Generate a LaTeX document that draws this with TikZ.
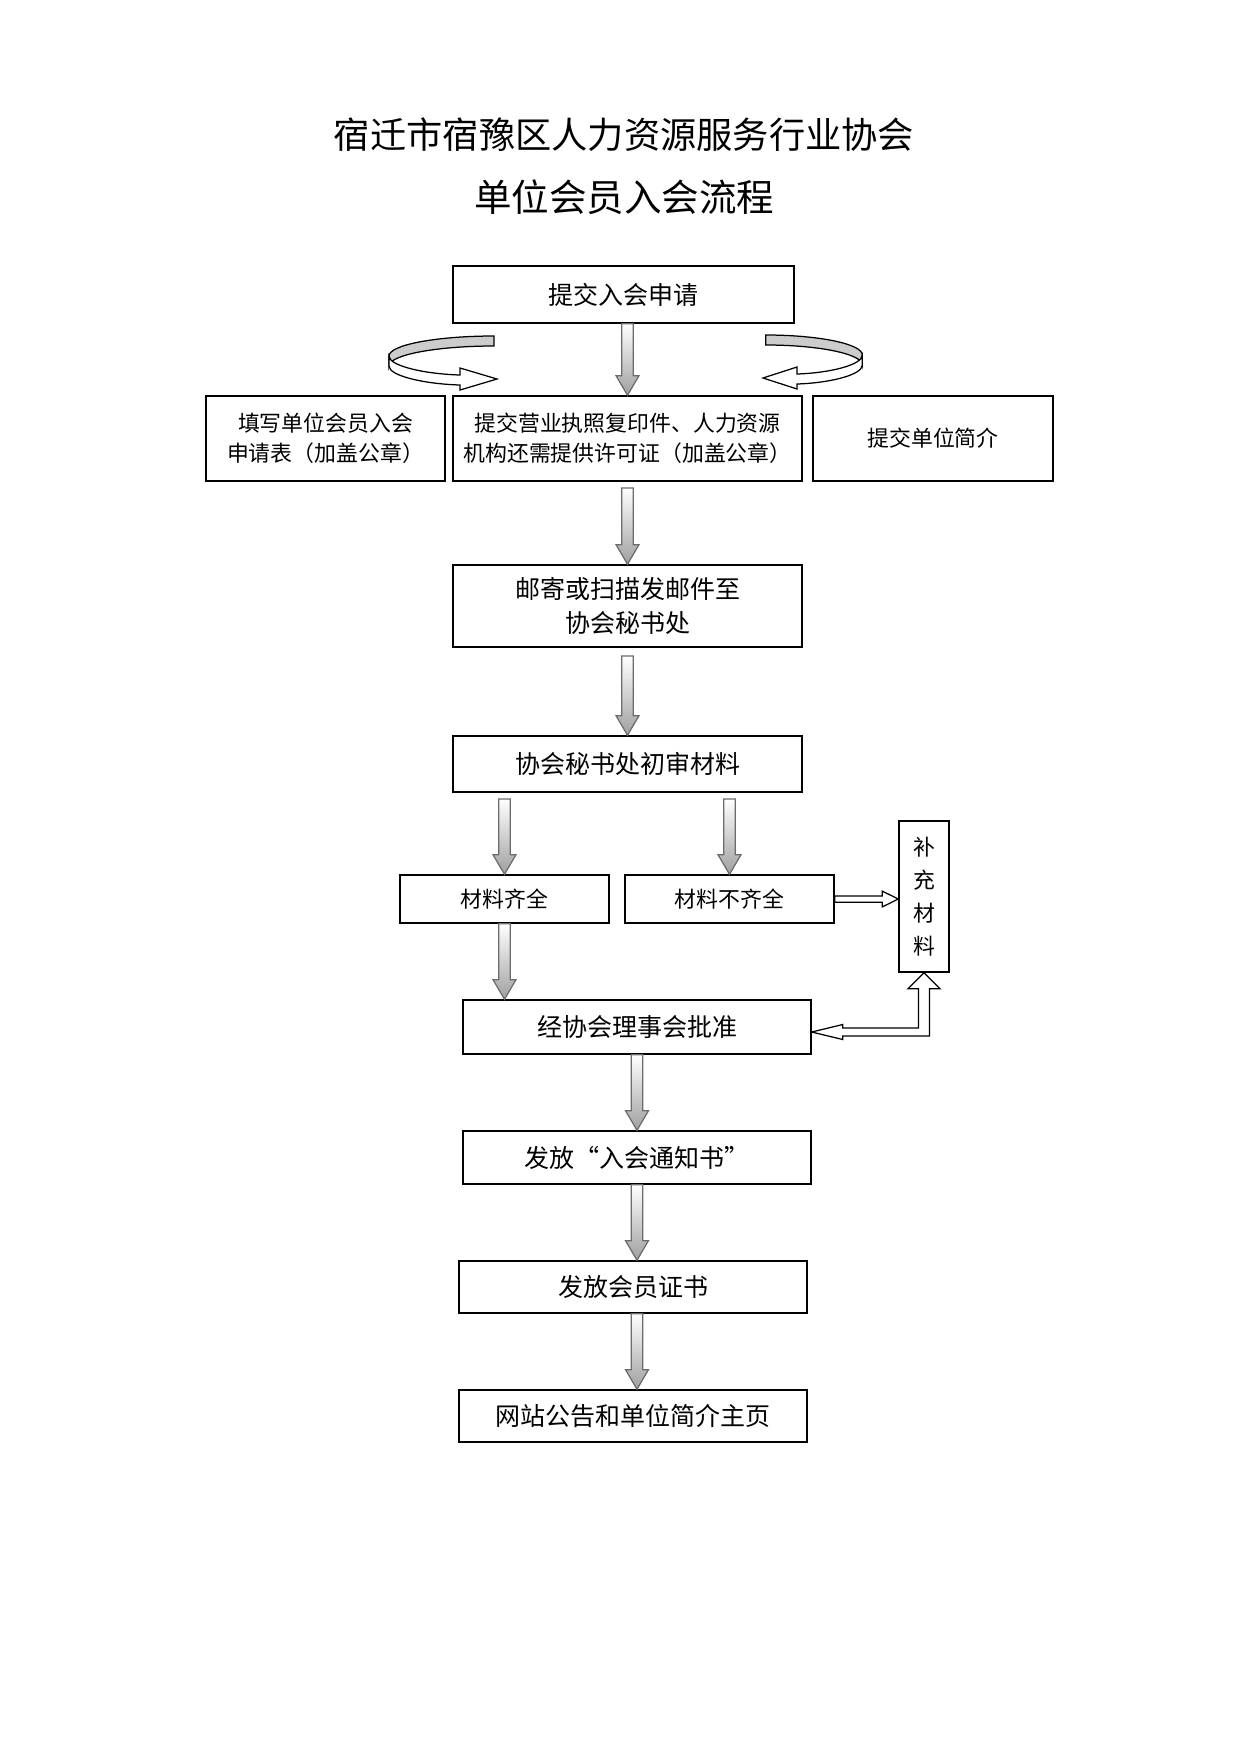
\documentclass[tikz,border=0pt]{standalone}
\usepackage{fontspec}
\setmainfont{Noto Sans CJK SC}
\usetikzlibrary{calc}
\tikzstyle{box} = [rectangle, draw, line width=0.7pt, align=center,
    inner sep=0pt, font=\fontsize{12pt}{16.3pt}\selectfont]
\tikzstyle{smallbox} = [box, font=\fontsize{10.5pt}{14.4pt}\selectfont]
\tikzstyle{graydown} = [draw=gray!85!black, line width=0.6pt,
    top color=white, bottom color=gray!75,
    to path={let \p1=(\tikztostart), \p2=(\tikztotarget) in
      (\x1-2.8pt,\y1) -- (\x1+2.8pt,\y1) -- (\x1+2.8pt,\y2+9.4pt)
      -- (\x1+5.5pt,\y2+9.4pt) -- (\x1,\y2) -- (\x1-5.5pt,\y2+9.4pt)
      -- (\x1-2.8pt,\y2+9.4pt) -- cycle}]
\tikzstyle{hollow} = [draw, fill=white, line width=0.6pt]
\tikzstyle{hollowright} = [hollow,
    to path={let \p1=(\tikztostart), \p2=(\tikztotarget) in
      (\x1,\y1+1.5pt) -- (\x2-7.7pt,\y1+1.5pt) -- (\x2-7.7pt,\y1+3.8pt)
      -- (\x2,\y1) -- (\x2-7.7pt,\y1-3.8pt) -- (\x2-7.7pt,\y1-1.5pt)
      -- (\x1,\y1-1.5pt) -- cycle}]
\tikzset{turnarrow/.pic={
    \filldraw[fill=gray!40, line width=0.6pt] (-3,-43) .. controls (-61,-43) and (-108,-34) .. (-108,-23)
      -- (-108,-13) .. controls (-108,-24) and (-61,-33) .. (-3,-33) -- cycle;
    \filldraw[fill=white, line width=0.6pt] (-108,-23) .. controls (-108,-13) and (-72,-5) .. (-37,-4)
      -- (-37,-11) -- (0,0) -- (-37,11) -- (-37,6) .. controls (-72,5) and (-108,-3) .. (-108,-13) -- cycle;
}}

\begin{document}
\begin{tikzpicture}[x=0.48pt, y=-0.48pt]
    \useasboundingbox (0,0) rectangle (1240,1754);

    % Title
    \node[font=\fontsize{18pt}{30.2pt}\selectfont, align=center] (title) at (624,166.5)
        {{\fontsize{17.4pt}{30.2pt}\selectfont 宿迁市宿豫区人力资源服务行业协会}\\单位会员入会流程};

    % Application
    \node[box, minimum width=163.7pt, minimum height=27.4pt] (apply) at (623.5,294.5) {提交入会申请};
    \node[smallbox, minimum width=114.7pt, minimum height=40.8pt] (form) at (325.5,438.5)
        {填写单位会员入会\\申请表（加盖公章）};
    \node[smallbox, minimum width=167.5pt, minimum height=40.8pt] (license) at (627.5,438.5)
        {提交营业执照复印件、人力资源\\机构还需提供许可证（加盖公章）};
    \node[smallbox, minimum width=115.2pt, minimum height=40.8pt] (intro) at (933,438.5) {提交单位简介};

    % Review
    \node[box, minimum width=167.5pt, minimum height=39.4pt] (mail) at (627.5,606)
        {邮寄或扫描发邮件至\\协会秘书处};
    \node[box, minimum width=167.5pt, minimum height=26.9pt] (check) at (627.5,764) {协会秘书处初审材料};
    \node[smallbox, minimum width=100.3pt, minimum height=23pt] (complete) at (504.5,899) {材料齐全};
    \node[smallbox, minimum width=100.3pt, minimum height=23pt] (lack) at (729.5,899) {材料不齐全};
    \node[smallbox, minimum width=24pt, minimum height=72.5pt, font=\fontsize{10.5pt}{15.8pt}\selectfont]
        (extra) at (924,896.5) {补\\充\\材\\料};

    % Approval
    \node[box, minimum width=167pt, minimum height=25.9pt] (board) at (637,1027) {经协会理事会批准};
    \node[box, minimum width=167pt, minimum height=25.4pt] (notice) at (637,1157.5) {发放“入会通知书”};
    \node[box, minimum width=167pt, minimum height=25pt] (cert) at (633,1287) {发放会员证书};
    \node[box, minimum width=167pt, minimum height=25pt] (web) at (633,1416) {网站公告和单位简介主页};

    % Arrows
    \pic at (497,379) {turnarrow};
    \pic[xscale=-0.92] at (763,378) {turnarrow};
    \draw[graydown] (apply.south -| license.north) to (license.north);
    \draw[graydown] ([yshift=-3pt]license.south) to (mail.north);
    \draw[graydown] ([yshift=-4pt]mail.south) to (check.north);
    \draw[graydown] ([yshift=-3pt]check.south -| complete.north) to (complete.north);
    \draw[graydown] ([yshift=-3pt]check.south -| lack.north) to (lack.north);
    \draw[graydown] (complete.south) to (complete.south |- board.north);
    \draw[graydown] (board.south) to (notice.north -| board.south);
    \draw[graydown] (notice.south) to (cert.north -| notice.south);
    \draw[graydown] (cert.south -| notice.south) to (web.north -| notice.south);

    \draw[hollowright] (lack.east) to (extra.west |- lack.east);
    \draw[hollow] let \p1=(extra.south), \p2=(board.east) in
        (\x2,\y2-2.4pt) -- (\x2+14.9pt,\y2+1.2pt) -- (\x2+14.9pt,\y2-0.5pt) -- (\x1-2.6pt,\y2-0.5pt)
        -- (\x1-2.6pt,\y1-7.7pt) -- (\x1-7.7pt,\y1-7.7pt) -- (\x1,\y1) -- (\x1+7.7pt,\y1-7.7pt)
        -- (\x1+2.6pt,\y1-7.7pt) -- (\x1+2.6pt,\y2-4.3pt) -- (\x2+14.9pt,\y2-4.3pt)
        -- (\x2+14.9pt,\y2-6pt) -- cycle;
\end{tikzpicture}
\end{document}
